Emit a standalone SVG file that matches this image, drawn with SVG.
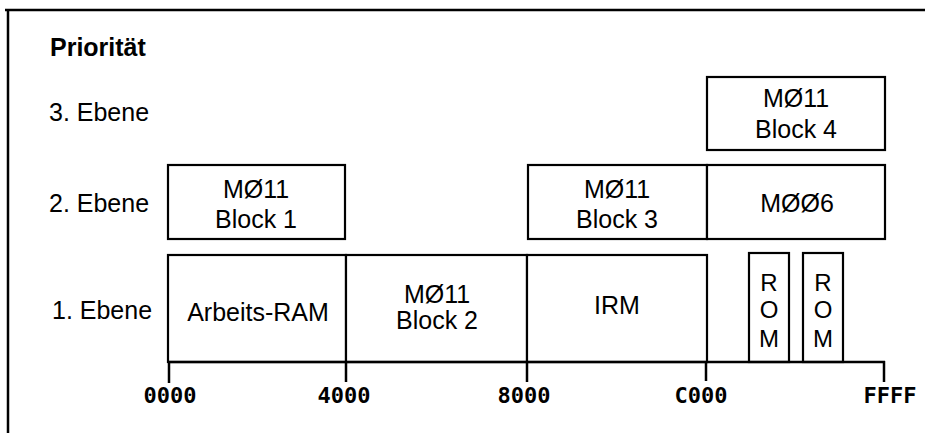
<svg xmlns="http://www.w3.org/2000/svg" width="925" height="435" viewBox="0 0 925 435">
<style>
.box{fill:#fff;stroke:#000;stroke-width:2.2}
.ln{stroke:#000;stroke-width:2.5;fill:none}
.t{font-family:"Liberation Sans",Arial,sans-serif;font-size:25px;fill:#000}
.c{text-anchor:middle}
.b{font-weight:bold}
.rom{font-family:"Liberation Sans",Arial,sans-serif;font-size:24px;fill:#000;text-anchor:middle}
.ax{font-family:"DejaVu Sans Mono","Liberation Mono",monospace;font-size:22px;font-weight:bold;fill:#000;text-anchor:middle}
</style>
<rect width="925" height="435" fill="#fff"/>
<g id="frame">
<line class="ln" x1="5" y1="10" x2="925" y2="10" stroke-width="3"/>
<line class="ln" x1="8" y1="9" x2="8" y2="433"/>
</g>
<g id="labels">
<text class="t b" x="50" y="56">Priorität</text>
<text class="t" x="49" y="121">3. Ebene</text>
<text class="t" x="49" y="212">2. Ebene</text>
<text class="t" x="52" y="319">1. Ebene</text>
</g>
<g id="block4">
<rect class="box" x="707" y="77" width="178" height="73"/>
<text class="t c" x="796" y="107">MØ11</text>
<text class="t c" x="796" y="138">Block 4</text>
</g>
<g id="block1">
<rect class="box" x="168" y="165" width="177" height="74"/>
<text class="t c" x="256" y="198">MØ11</text>
<text class="t c" x="256" y="228">Block 1</text>
</g>
<g id="block3">
<rect class="box" x="528" y="165" width="179" height="74"/>
<text class="t c" x="617" y="198">MØ11</text>
<text class="t c" x="617" y="228">Block 3</text>
</g>
<g id="m006">
<rect class="box" x="707" y="165" width="178" height="74"/>
<text class="t c" x="797" y="212">MØØ6</text>
</g>
<g id="ram">
<rect class="box" x="168" y="255" width="178" height="107"/>
<text class="t c" x="258" y="321">Arbeits-RAM</text>
</g>
<g id="block2">
<rect class="box" x="346" y="255" width="181" height="107"/>
<text class="t c" x="437" y="303">MØ11</text>
<text class="t c" x="437" y="329">Block 2</text>
</g>
<g id="irm">
<rect class="box" x="527" y="255" width="180" height="107"/>
<text class="t c" x="617" y="314">IRM</text>
</g>
<g id="rom1">
<rect class="box" x="749" y="253" width="40" height="109"/>
<text class="rom" x="769" y="291">R</text>
<text class="rom" x="769" y="318">O</text>
<text class="rom" x="769" y="347">M</text>
</g>
<g id="rom2">
<rect class="box" x="803" y="253" width="40" height="109"/>
<text class="rom" x="823" y="291">R</text>
<text class="rom" x="823" y="318">O</text>
<text class="rom" x="823" y="347">M</text>
</g>
<g id="axis">
<line class="ln" x1="168" y1="362" x2="885" y2="362" stroke-width="3"/>
<line class="ln" x1="169" y1="362" x2="169" y2="383"/>
<line class="ln" x1="346" y1="362" x2="346" y2="382"/>
<line class="ln" x1="527" y1="362" x2="527" y2="382"/>
<line class="ln" x1="706" y1="362" x2="706" y2="381"/>
<line class="ln" x1="884" y1="361" x2="884" y2="382"/>
<text class="ax" x="170" y="403">0000</text>
<text class="ax" x="344" y="403">4000</text>
<text class="ax" x="524" y="403">8000</text>
<text class="ax" x="701" y="403">C000</text>
<text class="ax" x="890" y="403">FFFF</text>
</g>
</svg>
